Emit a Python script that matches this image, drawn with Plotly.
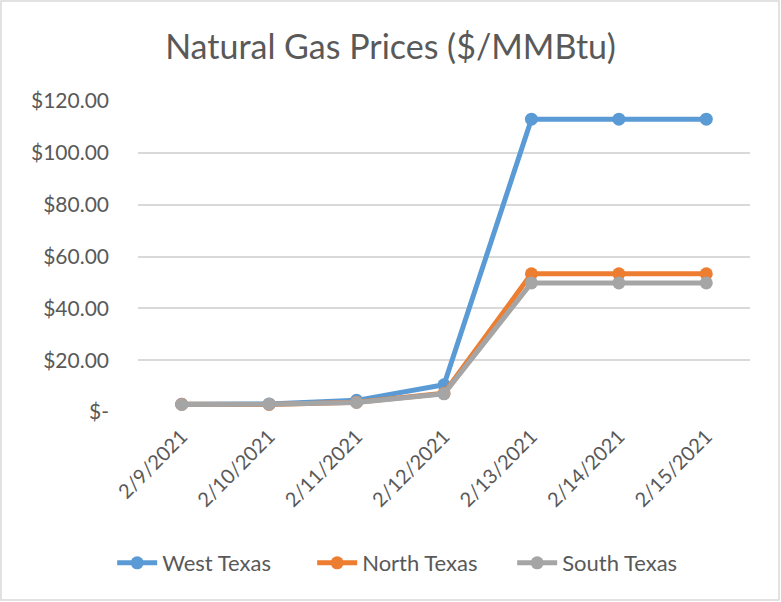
import plotly.graph_objects as go

dates = ["2/9/2021", "2/10/2021", "2/11/2021", "2/12/2021", "2/13/2021", "2/14/2021", "2/15/2021"]
west_texas = [3.0, 3.1, 4.5, 10.5, 113.0, 113.0, 113.0]
north_texas = [3.0, 2.9, 3.8, 7.2, 53.3, 53.3, 53.3]
south_texas = [2.9, 3.0, 3.7, 7.0, 49.8, 49.8, 49.8]
y_ticks = [0, 20, 40, 60, 80, 100, 120]
y_tick_labels = ["$-", "$20.00", "$40.00", "$60.00", "$80.00", "$100.00", "$120.00"]

W, H = 781, 602
L, R, T, B = 138, 31, 101, 190
pw, ph = W - L - R, H - T - B

fig = go.Figure()
for name, vals, col in [("West Texas", west_texas, "#5B9BD5"),
                        ("North Texas", north_texas, "#ED7D31"),
                        ("South Texas", south_texas, "#A5A5A5")]:
    fig.add_trace(go.Scatter(x=dates, y=vals, name=name, mode="lines+markers",
                             line=dict(color=col, width=5),
                             marker=dict(color=col, size=13)))

font_family = "Lato, Open Sans, sans-serif"
fig.update_layout(
    width=W, height=H,
    margin=dict(l=L, r=R, t=T, b=B),
    paper_bgcolor="white", plot_bgcolor="white",
    title=dict(text="Natural Gas Prices ($/MMBtu)", x=0.5, xanchor="center",
               y=1 - 47 / H, yanchor="middle",
               font=dict(family=font_family, size=34, color="#595959")),
    font=dict(family=font_family, color="#595959"),
    showlegend=True,
    legend=dict(orientation="h", x=0.448, xanchor="center", y=-(563 - 412) / ph,
                yanchor="middle", font=dict(size=22, color="#595959"),
                itemwidth=40, entrywidth=145, entrywidthmode="pixels",
                traceorder="normal"),
    xaxis=dict(type="category", showgrid=False, showline=False, zeroline=False,
               tickangle=-45, tickfont=dict(size=20, color="#595959"), ticks="",
               ticklabelstandoff=8, range=[-0.5, 6.5]),
    yaxis=dict(range=[0, 120], tickvals=y_ticks, ticktext=y_tick_labels,
               showgrid=True, gridcolor="#D9D9D9", gridwidth=1.5, zeroline=False,
               showline=False, ticks="", ticklabelstandoff=28,
               tickfont=dict(size=21, color="#595959")),
    shapes=[dict(type="rect", xref="paper", yref="paper",
                 x0=(1 - L) / pw, x1=(W - 2 - L) / pw,
                 y0=-(H - 2 - T - ph) / ph, y1=1 + (T - 1) / ph,
                 line=dict(color="#D9D9D9", width=1.5), fillcolor="rgba(0,0,0,0)",
                 layer="below")],
)
fig.write_html("out.html", config={"displayModeBar": False},
               post_script="document.body.style.margin='0px';document.body.style.overflow='hidden';")
